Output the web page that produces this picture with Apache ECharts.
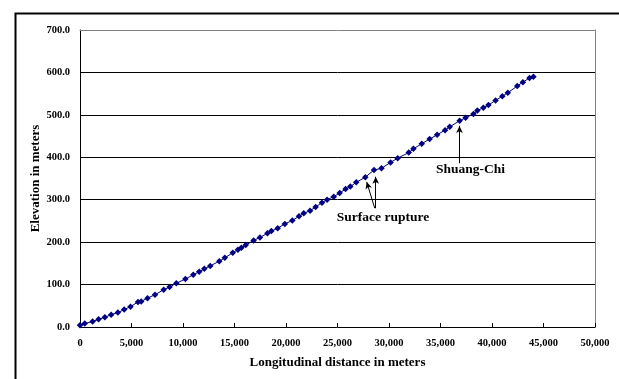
<!DOCTYPE html>
<html>
<head>
<meta charset="utf-8">
<script src="https://cdn.jsdelivr.net/npm/echarts@6/dist/echarts.min.js"></script>
<style>html,body{margin:0;padding:0;background:#fff}#c{width:619px;height:379px}</style>
</head>
<body>
<div id="c"></div>
<script>
// Longitudinal distance (m)
const distance = [0,460,1226,1800,2414,3027,3678,4291,4904,5632,5939,6552,7280,8123,8697,9349,10230,10996,11571,12069,12644,13525,14061,14828,15326,15670,16092,16858,17471,18199,18582,19195,19885,20613,21264,21724,22337,22874,23487,23985,24636,25211,25785,26245,26820,27701,28544,29272,30153,30843,31916,32375,33180,33946,34674,35441,35900,36858,37433,38199,38582,39157,39655,40345,41000,41533,42452,43000,43640,44023];
// Elevation (m)
const elevation = [4,8,13,18,23,29,34,41,48,59,60,68,76,88,94,103,113,123,130,137,144,155,163,175,182,187,193,204,211,221,226,233,243,251,261,268,274,283,293,300,307,316,325,331,341,353,370,374,388,398,411,420,432,443,453,464,472,486,493,502,510,517,523,534,544,552,568,577,587,590];
const xTicks = {min:0, max:50000, interval:5000};
const yTicks = {min:0, max:700, interval:100};
// Annotations: [text, x, y]
const labels = [["Surface rupture", 29417, 257], ["Shuang-Chi", 37922, 370]];
// Arrows: [fromX, fromY, toX, toY]
const arrows = [[28612,280,27835,342],[28709,280,28709,354],[36845,386,36845,474]];

const font = 'Liberation Serif';
const chart = echarts.init(document.getElementById('c'), null, {renderer:'canvas'});
chart.setOption({
  animation:false,
  backgroundColor:'#fff',
  graphic:[{type:'rect', left:13, top:11, shape:{width:700, height:500}, style:{fill:'none', stroke:'#000', lineWidth:2}, z:100}],
  grid:{left:80, right:24, top:30, bottom:52},
  xAxis:[{
    type:'value', min:xTicks.min, max:xTicks.max, interval:xTicks.interval,
    name:'Longitudinal distance in meters', nameLocation:'middle', nameGap:29, nameMoveOverlap:false,
    nameTextStyle:{fontFamily:font, fontWeight:'bold', fontSize:13, color:'#000'},
    axisLine:{onZero:false, lineStyle:{color:'#000', width:1}},
    axisTick:{inside:true, length:4, lineStyle:{color:'#000'}},
    axisLabel:{fontFamily:font, fontWeight:'bold', fontSize:10.5, color:'#000', margin:11,
      formatter:v=>v.toLocaleString('en-US')},
    splitLine:{show:false}
  },{
    type:'value', position:'top', min:xTicks.min, max:xTicks.max, interval:xTicks.interval,
    axisLine:{show:true, onZero:false, lineStyle:{color:'#808080', width:1}},
    axisTick:{show:false}, axisLabel:{show:false}, splitLine:{show:false}
  }],
  yAxis:[{
    type:'value', min:yTicks.min, max:yTicks.max, interval:yTicks.interval,
    name:'Elevation in meters', nameLocation:'middle', nameGap:38, nameMoveOverlap:false,
    nameTextStyle:{fontFamily:font, fontWeight:'bold', fontSize:13, color:'#000'},
    axisLine:{show:true, onZero:false, lineStyle:{color:'#000', width:1}},
    axisTick:{show:false},
    axisLabel:{fontFamily:font, fontWeight:'bold', fontSize:10.5, color:'#000', margin:10,
      formatter:v=>v.toFixed(1)},
    splitLine:{show:true, showMinLine:false, showMaxLine:false, lineStyle:{color:'#000', width:1}}
  },{
    type:'value', position:'right', min:yTicks.min, max:yTicks.max, interval:yTicks.interval,
    axisLine:{show:true, onZero:false, lineStyle:{color:'#808080', width:1}},
    axisTick:{show:false}, axisLabel:{show:false}, splitLine:{show:false}
  }],
  series:[{
    type:'line',
    data:distance.map((d,i)=>[d, elevation[i]]),
    symbol:'diamond', symbolSize:6.5,
    itemStyle:{color:'#000080'},
    lineStyle:{color:'#000080', width:1},
    z:3,
    markLine:{
      silent:true, symbol:['none','arrow'], symbolSize:[5,7],
      lineStyle:{color:'#000', width:1, type:'solid'},
      label:{show:false},
      data:arrows.map(a=>[{coord:[a[0],a[1]]},{coord:[a[2],a[3]]}])
    },
    markPoint:{
      silent:true, symbol:'circle', symbolSize:0,
      label:{show:true, position:'inside', fontFamily:font, fontWeight:'bold', fontSize:13.5, color:'#000', formatter:p=>p.name},
      data:labels.map(l=>({name:l[0], coord:[l[1], l[2]]}))
    }
  }]
});
</script>
</body>
</html>
